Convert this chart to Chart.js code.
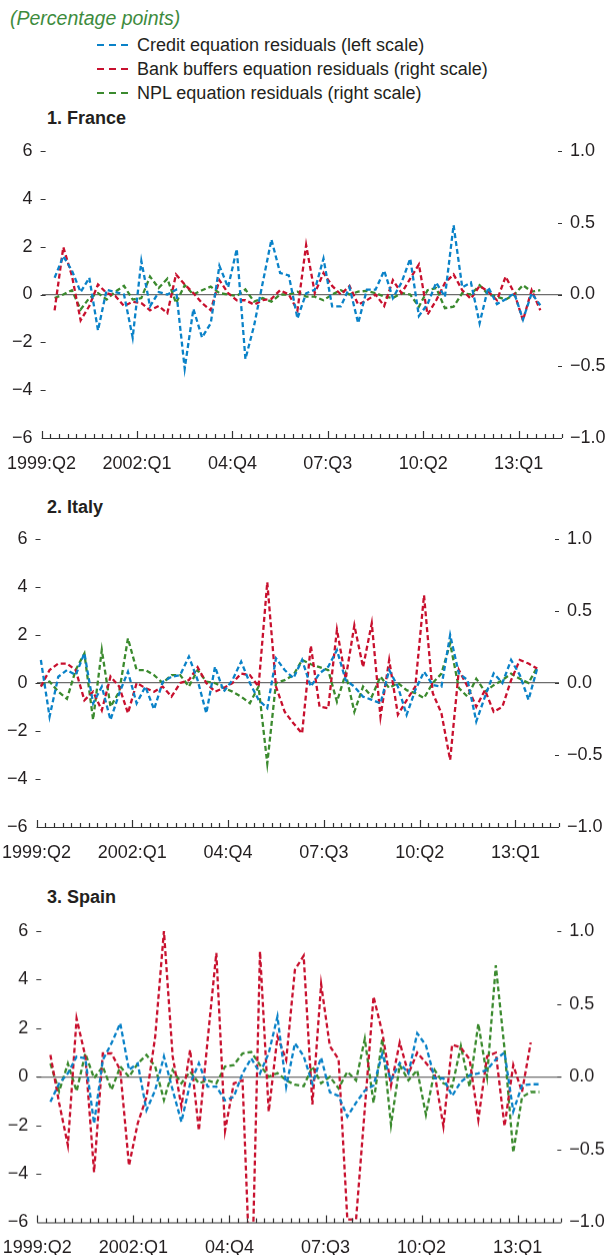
<!DOCTYPE html>
<html>
<head>
<meta charset="utf-8">
<script src="https://cdn.jsdelivr.net/npm/chart.js@4.4.1/dist/chart.umd.min.js"></script>
<style>
  html, body { margin: 0; padding: 0; background: #fff; width: 609px; height: 1255px; overflow: hidden; }
  body { position: relative; font-family: "Liberation Sans", Arial, sans-serif; color: #231f20; }
  .note { position: absolute; left: 10px; top: 7px; font-size: 19.5px; line-height: 22px; font-style: italic; color: #3d8b3d; }
  .legend { position: absolute; left: 97px; top: 33px; font-size: 18px; }
  .legend div { height: 24px; display: flex; align-items: center; white-space: nowrap; }
  .legend i { display: inline-block; width: 31px; height: 2.5px; margin-right: 9px; }
  .title { position: absolute; left: 47px; font-size: 18px; line-height: 20px; font-weight: bold; }
  .panel { position: absolute; left: 0; width: 609px; }
</style>
</head>
<body>
<div class="note">(Percentage points)</div>
<div class="legend">
  <div><i style="background: repeating-linear-gradient(90deg, #0a82c8 0 7px, transparent 7px 12px)"></i>Credit equation residuals (left scale)</div>
  <div><i style="background: repeating-linear-gradient(90deg, #c8102e 0 7px, transparent 7px 12px)"></i>Bank buffers equation residuals (right scale)</div>
  <div><i style="background: repeating-linear-gradient(90deg, #3b8a2e 0 7px, transparent 7px 12px)"></i>NPL equation residuals (right scale)</div>
</div>
<div class="title" style="top: 108px">1. France</div>
<div class="title" style="top: 497px">2. Italy</div>
<div class="title" style="top: 887px">3. Spain</div>
<div class="panel" id="wrapFrance"><canvas id="chartFrance"></canvas></div>
<div class="panel" id="wrapItaly"><canvas id="chartItaly"></canvas></div>
<div class="panel" id="wrapSpain"><canvas id="chartSpain"></canvas></div>

<script>
// quarters 1999:Q2 .. 2013:Q3, every series below is aligned to this list
const quarters = [];
for (let y = 1999, q = 2; quarters.length < 58; ) {
  quarters.push(y + ':Q' + q);
  if (++q > 4) { q = 1; y++; }
}
const axisQuarters = 60; // the axis runs on to 2014:Q2
const xTickIndex = [0, 11, 22, 33, 44, 55];
const xTickText = ['1999:Q2', '2002:Q1', '04:Q4', '07:Q3', '10:Q2', '13:Q1'];
const leftTicks = [-6, -4, -2, 0, 2, 4, 6];
const rightTicks = [-1, -0.5, 0, 0.5, 1];

// 1. France
const franceCredit = [null,
  0.7, 1.6, 1.0, 0.1, 0.7, -1.5, 0.2, 0.1, 0.0, -1.8,
  1.4, -0.5, 0.1, 0.0, 0.2, -3.1, -0.6, -1.8, -1.2, 1.2,
  0.3, 1.9, -2.7, -1.3, 0.5, 2.3, 0.9, 0.8, -1.0, 0.05,
  0.2, 1.5, -0.5, -0.5, 0.3, -1.2, 0.2, 0.2, 1.0, -0.15,
  0.5, 1.5, -0.9, -0.4, 0.5, -0.1, 2.9, 0.3, 0.5, -1.2,
  0.3, -0.4, -0.2, 0.05, -1.05, 0.05, -0.45];
const franceBuffers = [null,
  -0.11, 0.33, 0.13, -0.18, -0.08, 0.07, 0.01, -0.01, -0.08, -0.05,
  -0.06, -0.11, -0.08, -0.13, 0.14, 0.07, 0.01, -0.06, -0.11, 0.1,
  0.01, -0.04, -0.04, -0.07, -0.04, -0.03, 0.03, 0, -0.11, 0.345,
  0.01, 0.15, 0.06, 0, 0.06, -0.07, -0.04, 0, -0.08, 0.1,
  0.01, 0.11, 0.21, -0.14, -0.04, 0.08, 0.14, 0.03, -0.03, 0.06,
  0.02, -0.04, 0.125, 0.01, -0.18, 0.03, -0.11];
const franceNpl = [null,
  -0.025, 0, 0.03, -0.105, -0.025, 0.01, -0.035, 0.02, 0.06, -0.035,
  -0.025, 0.125, 0.045, 0.11, -0.06, 0.065, 0, 0.03, 0.055, 0.01,
  0, -0.01, 0.035, -0.05, -0.025, -0.05, 0, 0, 0.02, -0.015,
  -0.015, -0.04, 0, 0.03, 0, 0.02, 0.025, 0.01, -0.015, -0.025,
  0.01, 0, -0.085, 0.03, 0.045, -0.095, -0.085, 0.01, 0, 0.065,
  0, -0.015, -0.035, 0, 0.065, 0.02, 0.03];

// 2. Italy
const italyCredit = [
  0.96, -1.4, 0.26, 0.54, 0.33, 1.24, -0.85, -0.15, -1.54, -0.43,
  0.47, -0.85, -0.15, -1.1, 0.05, 0.26, 0.33, 1.1, 0.12, -1.26,
  0.68, -0.36, 0.12, 0.89, 0, -0.7, -1.05, 1.03, 0.54, 0.2,
  0.96, -0.15, 0.4, 0.68, 1.37, 0.12, -0.15, -0.57, -0.7, -0.85,
  0.54, -0.15, -1.33, -0.29, 0.47, -0.08, -0.15, 2.0, 0.4, 0.12,
  -1.6, -0.57, 0.4, 0, 0.96, 0.33, -0.7, 0.61];
const italyBuffers = [
  -0.025, 0.09, 0.135, 0.135, 0.09, -0.12, -0.06, -0.19, 0.045, -0.025,
  -0.21, 0, -0.035, -0.06, -0.025, -0.095, 0, 0.02, 0.11, 0,
  -0.06, -0.035, 0, 0.065, 0.055, -0.025, 0.70, -0.025, -0.2, -0.28,
  -0.35, 0.26, -0.165, -0.175, 0.37, 0.03, 0.40, 0.11, 0.415, -0.235,
  0.16, -0.22, -0.12, -0.025, 0.61, -0.07, -0.21, -0.535, 0.09, -0.025,
  -0.165, -0.05, -0.2, -0.165, 0.02, 0.16, 0.135, 0.10];
const italyNpl = [
  -0.015, 0.01, -0.06, -0.11, 0.09, 0.205, -0.255, 0.23, -0.165, -0.06,
  0.31, 0.09, 0.09, 0.055, 0, 0.055, 0.055, -0.025, 0.09, 0.01,
  0, -0.035, -0.06, -0.095, -0.14, -0.025, -0.56, 0, 0.02, 0.055,
  0.16, 0.13, 0.11, 0.09, -0.13, 0.065, -0.2, -0.025, -0.095, 0.045,
  -0.035, 0, -0.05, -0.07, -0.105, 0, 0.065, 0.275, -0.035, -0.095,
  0.03, -0.06, -0.015, 0.02, 0.065, 0.03, 0, 0.11];

// 3. Spain
const spainCredit = [null,
  -1.03, -0.28, 0.14, 0.83, 0.76, -1.93, 0.69, 1.38, 2.2, 0.28,
  0.55, -1.38, -0.55, 0.83, -0.55, -1.86, -0.28, 0.55, -0.41, -0.41,
  -0.97, -0.83, 0.14, 0.76, 0.14, 0.97, 2.48, -0.41, 1.38, 0.85,
  -0.29, 0.79, -0.64, -0.79, -1.64, -1.07, -0.57, -0.36, 0.93, -0.14,
  0.57, 0.14, 1.79, 1.29, -0.07, -0.07, -0.79, -0.21, 0.07, 0.14,
  0.29, 0.71, 1.0, -1.43, -0.36, -0.31, -0.31];
const spainBuffers = [null,
  0.15, -0.18, -0.47, 0.40, 0.14, -0.655, 0.16, 0.16, 0.045, -0.61,
  -0.32, -0.14, 0.275, 1.0, 0.14, -0.205, 0.185, -0.37, 0.25, 0.85,
  -0.37, -0.045, -0.025, -1.6, 0.86, -0.24, 0.275, 0.115, 0.735, 0.83,
  -0.19, 0.635, 0.21, 0.12, -0.98, -0.98, -0.22, 0.55, 0.305, -0.06,
  0.235, 0.02, 0.165, 0.095, 0.02, -0.34, 0.22, 0.20, 0.12, -0.295,
  0.14, 0.165, -0.34, 0.08, -0.105, 0.235, null];
const spainNpl = [null,
  0.09, -0.10, 0.09, -0.10, 0.16, -0.01, 0.07, -0.09, 0.07, 0,
  0.09, 0.15, 0.07, -0.16, 0.045, -0.045, 0.035, -0.045, -0.025, -0.045,
  0.07, 0.08, 0.16, 0.17, 0.08, 0, 0.025, -0.025, -0.055, -0.065,
  0.07, -0.045, 0, -0.08, 0.035, -0.025, 0.26, -0.18, 0.26, -0.33,
  0.08, -0.025, 0.045, -0.26, 0.045, -0.045, -0.07, 0.21, -0.07, 0.365,
  0, 0.765, 0.19, -0.52, -0.14, -0.105, -0.105];

const colors = { credit: '#0a82c8', buffers: '#c8102e', npl: '#3b8a2e' };

Chart.defaults.font.family = '"Liberation Sans", Arial, sans-serif';
Chart.defaults.font.size = 18;
Chart.defaults.color = '#231f20';

const minus = (s) => s.replace('-', '\u2212');

// the panels are laid out by hand: no extra room for overhanging labels
const noPadding = (s) => {
  s.paddingLeft = s.paddingRight = s.paddingTop = s.paddingBottom = 0;
};

// axis line, quarter ticks and the small inward dashes at each value label
const axisMarks = {
  id: 'axisMarks',
  afterDraw(chart) {
    const { ctx, chartArea: a, scales } = chart;
    ctx.save();
    ctx.strokeStyle = '#333';
    ctx.lineWidth = 1.2;
    ctx.beginPath();
    ctx.moveTo(a.left, a.bottom + 0.5);
    ctx.lineTo(a.right, a.bottom + 0.5);
    scales.x.ticks.forEach((t) => {
      const k = Math.round(t.value + 0.5);
      const x = Math.round(scales.x.getPixelForValue(t.value)) + 0.5;
      ctx.moveTo(x, a.bottom);
      ctx.lineTo(x, a.bottom - (xTickIndex.includes(k) ? 7 : 4));
    });
    scales.y.ticks.forEach((t) => {
      if (t.value <= scales.y.min) return;
      const y = Math.round(scales.y.getPixelForValue(t.value)) + 0.5;
      ctx.moveTo(a.left - 1, y);
      ctx.lineTo(a.left + 4, y);
    });
    scales.y2.ticks.forEach((t) => {
      if (t.value <= scales.y2.min) return;
      const y = Math.round(scales.y2.getPixelForValue(t.value)) + 0.5;
      ctx.moveTo(a.right - 4, y);
      ctx.lineTo(a.right, y);
    });
    ctx.stroke();
    ctx.restore();
  }
};

function line(label, values, color, axis) {
  return {
    label,
    data: values.map((v, i) => ({ x: i, y: v })),
    yAxisID: axis,
    borderColor: color,
    borderWidth: 2.3,
    borderDash: [5, 3],
    pointRadius: 0,
    tension: 0,
    fill: false
  };
}

function drawPanel(canvasId, wrapId, geo, credit, buffers, npl) {
  const padTop = 14, xAxisH = 46;
  const wrap = document.getElementById(wrapId);
  wrap.style.top = (geo.top - padTop) + 'px';
  wrap.style.height = (geo.bottom - geo.top + padTop + xAxisH) + 'px';

  new Chart(document.getElementById(canvasId), {
    type: 'line',
    data: {
      datasets: [
        line('Credit equation residuals (left scale)', credit, colors.credit, 'y'),
        line('Bank buffers equation residuals (right scale)', buffers, colors.buffers, 'y2'),
        line('NPL equation residuals (right scale)', npl, colors.npl, 'y2')
      ]
    },
    options: {
      responsive: true,
      maintainAspectRatio: false,
      animation: false,
      layout: { autoPadding: false, padding: { top: padTop, bottom: 0, left: 0, right: 0 } },
      plugins: { legend: { display: false }, tooltip: { enabled: false } },
      scales: {
        x: {
          type: 'linear',
          min: -0.5,
          max: axisQuarters - 0.5,
          afterBuildTicks: (s) => {
            s.ticks = Array.from({ length: axisQuarters + 1 }, (_, k) => ({ value: k - 0.5 }));
          },
          afterFit: (s) => { s.height = xAxisH; noPadding(s); },
          grid: { display: false, drawTicks: false },
          border: { display: false },
          ticks: {
            autoSkip: false,
            maxRotation: 0,
            minRotation: 0,
            padding: 15,
            callback: (v) => {
              const i = xTickIndex.indexOf(Math.round(v + 0.5));
              return i >= 0 ? xTickText[i] : '';
            }
          }
        },
        y: {
          position: 'left',
          min: leftTicks[0],
          max: leftTicks[leftTicks.length - 1],
          afterBuildTicks: (s) => { s.ticks = leftTicks.map((v) => ({ value: v })); },
          afterFit: (s) => { s.width = geo.left; noPadding(s); },
          border: { display: false },
          grid: {
            drawTicks: false,
            lineWidth: 1.2,
            color: (c) => (c.tick && c.tick.value === 0 ? '#6d6d6d' : 'rgba(0,0,0,0)')
          },
          ticks: { padding: 9, callback: (v) => minus(String(v)) }
        },
        y2: {
          position: 'right',
          min: rightTicks[0],
          max: rightTicks[rightTicks.length - 1],
          afterBuildTicks: (s) => { s.ticks = rightTicks.map((v) => ({ value: v })); },
          afterFit: (s) => { s.width = 609 - geo.right; noPadding(s); },
          border: { display: false },
          grid: { display: false, drawTicks: false },
          ticks: { padding: 8, callback: (v) => minus(v.toFixed(1)) }
        }
      }
    },
    plugins: [axisMarks]
  });
}

drawPanel('chartFrance', 'wrapFrance', { left: 41.6, right: 562, top: 151, bottom: 438 },
  franceCredit, franceBuffers, franceNpl);
drawPanel('chartItaly', 'wrapItaly', { left: 36.5, right: 559, top: 539, bottom: 827 },
  italyCredit, italyBuffers, italyNpl);
drawPanel('chartSpain', 'wrapSpain', { left: 37.3, right: 561.3, top: 931, bottom: 1221.5 },
  spainCredit, spainBuffers, spainNpl);
</script>
</body>
</html>
